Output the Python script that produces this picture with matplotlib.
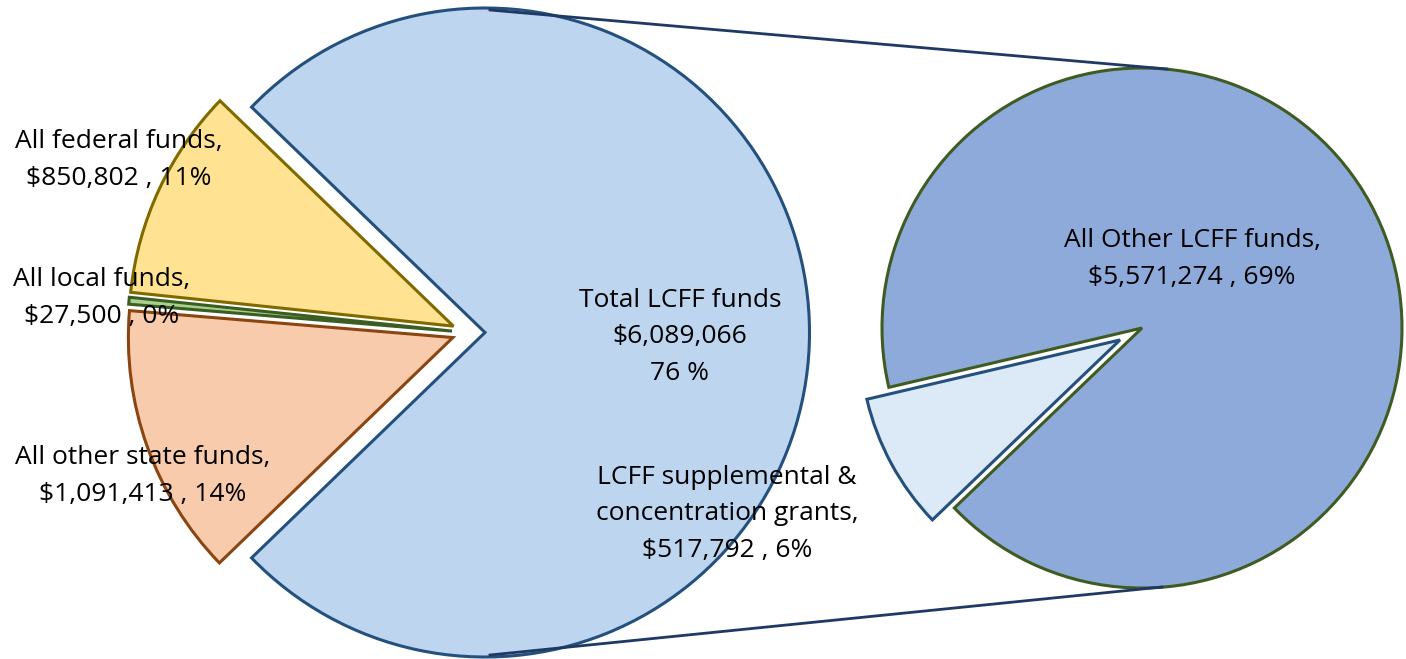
import numpy as np
import matplotlib
matplotlib.use("Agg")
import matplotlib.pyplot as plt

plt.rcParams['font.family'] = ['Open Sans', 'DejaVu Sans']

# main pie
main_names = ["Total LCFF funds", "All federal funds", "All local funds", "All other state funds"]
main_values = [6089066, 850802, 27500, 1091413]
main_colors = ["#bdd5ee", "#ffe393", "#a9d08e", "#f8cbad"]
main_edges = ["#24507e", "#7f6a00", "#3a5e22", "#8a4510"]

# breakout of the LCFF slice
sub_names = ["All Other LCFF funds", "LCFF supplemental &\nconcentration grants"]
sub_values = [5571274, 517792]
sub_colors = ["#8eaadb", "#dce9f6"]
sub_edges = ["#3e5c22", "#24507e"]

grand = sum(main_values)
pct = lambda v: int(round(100 * v / grand))

W, H = 1406, 659
fig = plt.figure(figsize=(W / 100, H / 100), dpi=100)
ax = fig.add_axes([0, 0, 1, 1])

# left pie: the non-LCFF slices gathered around 180 deg
c1, r1 = (485, 326.5), 324.5
others = sum(main_values[1:]) / grand * 360
start1 = 180 + others / 2
wedges1, _ = ax.pie(main_values, center=c1, radius=r1, startangle=start1,
                    counterclock=True, colors=main_colors, frame=True)
for i, (w, ec) in enumerate(zip(wedges1, main_edges)):
    w.set_edgecolor(ec)
    w.set_linewidth(2.2)
    if i > 0:
        # "other" group pulled left, and each slice a little apart
        tm = np.deg2rad((w.theta1 + w.theta2) / 2)
        w.set_center((c1[0] - 18 + 15 * np.cos(tm), c1[1] + 15 * np.sin(tm)))

# right pie
c2, r2 = (1142, 331), 260
small = sub_values[1] / sum(sub_values) * 360
mid = 208.5
start2 = mid + small / 2
wedges2, _ = ax.pie(sub_values, center=c2, radius=r2, startangle=start2,
                    counterclock=True, explode=[0, 25],
                    colors=sub_colors, frame=True)
for w, ec in zip(wedges2, sub_edges):
    w.set_edgecolor(ec)
    w.set_linewidth(2.2)

ax.set_xlim(0, W)
ax.set_ylim(0, H)
ax.set_aspect('equal')
ax.axis('off')

# connector lines
ax.plot([c1[0] + 5, c2[0] + 25], [c1[1] + r1 - 2, c2[1] + r2 - 1], color="#1f3864", lw=2)
ax.plot([c1[0] + 5, c2[0] + 20], [c1[1] - r1 + 2, c2[1] - r2 + 1], color="#1f3864", lw=2)

fs = 19
ls = 1.6
ax.text(119, H - 160, f"{main_names[1]},\n${main_values[1]:,} , {pct(main_values[1])}%",
        ha='center', va='center', fontsize=fs, linespacing=ls)
ax.text(102, H - 298, f"{main_names[2]},\n${main_values[2]:,} , {pct(main_values[2])}%",
        ha='center', va='center', fontsize=fs, linespacing=ls)
ax.text(143, H - 476, f"{main_names[3]},\n${main_values[3]:,} , {pct(main_values[3])}%",
        ha='center', va='center', fontsize=fs, linespacing=ls)
ax.text(680, H - 337, f"{main_names[0]}\n${main_values[0]:,}\n{pct(main_values[0])} %",
        ha='center', va='center', fontsize=fs, linespacing=ls)
ax.text(727, H - 514, f"{sub_names[1]},\n${sub_values[1]:,} , {pct(sub_values[1])}%",
        ha='center', va='center', fontsize=fs, linespacing=ls)
ax.text(1192, H - 259, f"{sub_names[0]},\n${sub_values[0]:,} , {pct(sub_values[0])}%",
        ha='center', va='center', fontsize=fs, linespacing=ls)

fig.savefig("out.png", dpi=100)
